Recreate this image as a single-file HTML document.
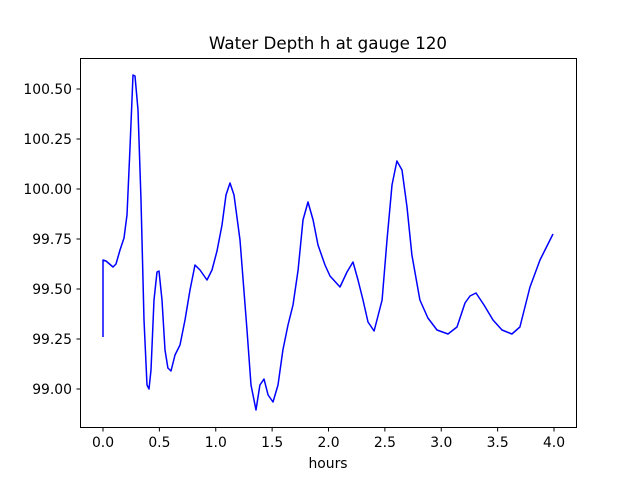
<!DOCTYPE html>
<html><head><meta charset="utf-8"><style>body{margin:0;background:#fff}svg{display:block;font-family:"DejaVu Sans","Liberation Sans",sans-serif}</style></head>
<body>
<svg id="chart" width="640" height="480">
<rect width="640" height="480" fill="#fff"/>
<text x="328" y="49" font-size="16.7" text-anchor="middle">Water Depth h at gauge 120</text>
<g id="xt"></g><g id="yt"></g>
<path id="line" fill="none" stroke="#0000ff" stroke-width="1.5" stroke-linejoin="round"/>
<rect x="80.5" y="58.5" width="496" height="369" fill="none" stroke="#000" stroke-width="1"/>
<text x="328" y="468" font-size="13.9" text-anchor="middle">hours</text>
</svg>
<script>
const hours=[0,0,0.027,0.089,0.115,0.151,0.186,0.213,0.239,0.266,0.284,0.31,0.337,0.364,0.39,0.408,0.426,0.452,0.479,0.497,0.523,0.55,0.576,0.603,0.639,0.683,0.727,0.772,0.816,0.86,0.922,0.967,1.011,1.055,1.091,1.126,1.162,1.215,1.277,1.313,1.357,1.392,1.428,1.464,1.508,1.552,1.596,1.641,1.685,1.73,1.774,1.818,1.863,1.907,1.969,2.013,2.102,2.164,2.217,2.262,2.306,2.35,2.404,2.475,2.519,2.563,2.607,2.652,2.696,2.74,2.811,2.882,2.962,3.06,3.14,3.211,3.255,3.308,3.379,3.459,3.539,3.627,3.698,3.787,3.876,3.991];
const depth=[99.26,99.645,99.64,99.61,99.625,99.695,99.755,99.87,100.195,100.57,100.565,100.395,99.945,99.345,99.02,99.0,99.095,99.445,99.585,99.59,99.445,99.195,99.105,99.09,99.17,99.22,99.345,99.495,99.62,99.595,99.545,99.595,99.69,99.82,99.97,100.03,99.97,99.745,99.295,99.02,98.895,99.02,99.05,98.97,98.935,99.02,99.195,99.32,99.42,99.595,99.845,99.935,99.845,99.72,99.62,99.565,99.51,99.585,99.635,99.545,99.445,99.335,99.29,99.445,99.745,100.02,100.14,100.095,99.91,99.67,99.445,99.355,99.295,99.275,99.31,99.43,99.465,99.48,99.42,99.345,99.295,99.275,99.31,99.51,99.645,99.775];
const xTicks=[0,0.5,1,1.5,2,2.5,3,3.5,4];
const yTicks=[99.0,99.25,99.5,99.75,100.0,100.25,100.5];
const X=v=>103+v*112.75, Y=v=>89+(100.5-v)*200;
const NS='http://www.w3.org/2000/svg';
document.getElementById('line').setAttribute('d',hours.map((h,i)=>(i?'L':'M')+X(h).toFixed(1)+','+Y(depth[i]).toFixed(1)).join(''));
const xt=document.getElementById('xt'),yt=document.getElementById('yt');
xTicks.forEach(t=>{const l=document.createElementNS(NS,'line');


l.setAttribute('x1',X(t));l.setAttribute('x2',X(t));l.setAttribute('y1',427.5);l.setAttribute('y2',431.5);l.setAttribute('stroke','#000');xt.appendChild(l);
const s=document.createElementNS(NS,'text');


s.setAttribute('x',X(t));s.setAttribute('y',447);s.setAttribute('font-size','13.9');s.setAttribute('text-anchor','middle');s.textContent=t.toFixed(1);xt.appendChild(s);});
yTicks.forEach(t=>{const l=document.createElementNS(NS,'line');


l.setAttribute('x1',76.5);l.setAttribute('x2',80.5);l.setAttribute('y1',Y(t));l.setAttribute('y2',Y(t));l.setAttribute('stroke','#000');yt.appendChild(l);
const s=document.createElementNS(NS,'text');


s.setAttribute('x',72);s.setAttribute('y',Y(t)+5);s.setAttribute('font-size','13.9');s.setAttribute('text-anchor','end');s.textContent=t.toFixed(2);yt.appendChild(s);});
</script>
</body></html>
